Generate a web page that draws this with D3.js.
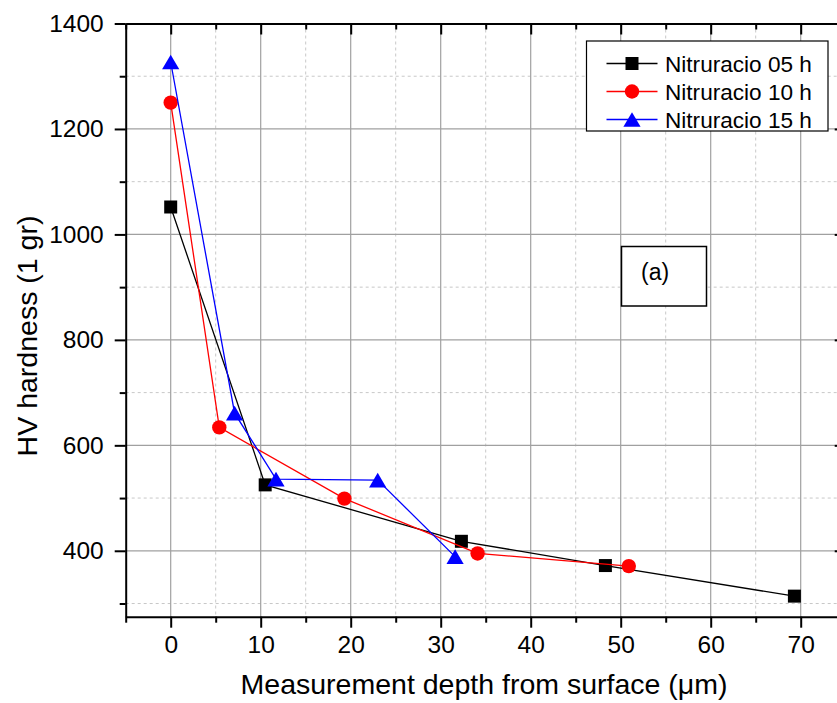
<!DOCTYPE html>
<html>
<head>
<meta charset="utf-8">
<script src="https://cdn.jsdelivr.net/npm/d3@7"></script>
<style>
  html, body { margin: 0; padding: 0; background: #fff; }
  svg { display: block; font-family: Arial, "Liberation Sans", sans-serif; }
</style>
</head>
<body>
<svg id="chart" width="837" height="703"></svg>
<script>
// ---- data ----
const xTicks = [0, 10, 20, 30, 40, 50, 60, 70];
const yTicks = [400, 600, 800, 1000, 1200, 1400];
const seriesNames = ["Nitruracio 05 h", "Nitruracio 10 h", "Nitruracio 15 h"];
const depth05 = [0, 10.5, 32.3, 48.3, 69.3];
const hv05    = [1052, 525, 418, 372, 314];
const depth10 = [0, 5.4, 19.3, 34.1, 50.9];
const hv10    = [1250, 634, 499, 395, 371];
const depth15 = [0, 7.1, 11.7, 23.0, 31.6];
const hv15    = [1327, 661, 536, 534, 389];
const xTitle = "Measurement depth from surface (\u03bcm)";
const yTitle = "HV hardness (1 gr)";
const panelLabel = "(a)";

// ---- layout ----
const svg = d3.select("#chart");
const L = 125.7, R = 845.7, T = 23.5, B = 616.7;
const x = d3.scaleLinear().domain([-5, 75]).range([L, R]);
const y = d3.scaleLinear().domain([275, 1400]).range([B, T]);

const xMinor = d3.range(-5, 76, 5).filter(v => v % 10 !== 0);
const yMinor = d3.range(300, 1400, 200);

// grid
const grid = svg.append("g");
grid.selectAll(".gxm").data(xMinor.filter(v => v > -5 && v < 75)).enter().append("line")
  .attr("x1", d => x(d)).attr("x2", d => x(d)).attr("y1", T).attr("y2", B)
  .attr("stroke", "#c8c8c8").attr("stroke-width", 1).attr("stroke-dasharray", "3,3");
grid.selectAll(".gym").data(yMinor).enter().append("line")
  .attr("y1", d => y(d)).attr("y2", d => y(d)).attr("x1", L).attr("x2", R)
  .attr("stroke", "#c8c8c8").attr("stroke-width", 1).attr("stroke-dasharray", "3,3");
grid.selectAll(".gx").data(xTicks).enter().append("line")
  .attr("x1", d => x(d)).attr("x2", d => x(d)).attr("y1", T).attr("y2", B)
  .attr("stroke", "#a0a0a0").attr("stroke-width", 1.2);
grid.selectAll(".gy").data(yTicks).enter().append("line")
  .attr("y1", d => y(d)).attr("y2", d => y(d)).attr("x1", L).attr("x2", R)
  .attr("stroke", "#a0a0a0").attr("stroke-width", 1.2);

// axes
function styleAxis(g) {
  g.select(".domain").attr("stroke", "#000").attr("stroke-width", 2);
  g.selectAll(".tick line").attr("stroke", "#000").attr("stroke-width", 2);
}
const tickFont = 24.5;
const gx = svg.append("g").attr("transform", `translate(0,${B})`)
  .call(d3.axisBottom(x).tickValues(xTicks).tickSize(11).tickSizeOuter(0).tickPadding(8).tickFormat(d3.format("d")));
styleAxis(gx);
gx.selectAll("text").attr("font-size", tickFont).attr("fill", "#000");
svg.append("g").attr("transform", `translate(0,${B})`)
  .call(d3.axisBottom(x).tickValues(xMinor).tickSize(6).tickSizeOuter(0).tickFormat(""))
  .call(styleAxis).select(".domain").remove();

const gy = svg.append("g").attr("transform", `translate(${L},0)`)
  .call(d3.axisLeft(y).tickValues(yTicks).tickSize(11).tickSizeOuter(0).tickPadding(11).tickFormat(d3.format("d")));
styleAxis(gy);
gy.selectAll("text").attr("font-size", tickFont).attr("fill", "#000");
svg.append("g").attr("transform", `translate(${L},0)`)
  .call(d3.axisLeft(y).tickValues(yMinor).tickSize(6).tickSizeOuter(0).tickFormat(""))
  .call(styleAxis).select(".domain").remove();

// top and right axes (inward ticks)
const gt = svg.append("g").attr("transform", `translate(0,${T})`)
  .call(d3.axisBottom(x).tickValues(xTicks).tickSize(11).tickSizeOuter(0).tickFormat(""));
styleAxis(gt);
svg.append("g").attr("transform", `translate(0,${T})`)
  .call(d3.axisBottom(x).tickValues(xMinor).tickSize(6).tickSizeOuter(0).tickFormat(""))
  .call(styleAxis).select(".domain").remove();
const gr = svg.append("g").attr("transform", `translate(${R},0)`)
  .call(d3.axisLeft(y).tickValues(yTicks).tickSize(11).tickSizeOuter(0).tickFormat(""));
styleAxis(gr);
svg.append("g").attr("transform", `translate(${R},0)`)
  .call(d3.axisLeft(y).tickValues(yMinor).tickSize(6).tickSizeOuter(0).tickFormat(""))
  .call(styleAxis).select(".domain").remove();

// axis titles
svg.append("text").attr("x", 484).attr("y", 694).attr("text-anchor", "middle")
  .attr("font-size", 28.5).attr("fill", "#000").text(xTitle);
svg.append("text").attr("transform", `translate(37,336) rotate(-90)`)
  .attr("text-anchor", "middle").attr("font-size", 28.5).attr("fill", "#000").text(yTitle);

// markers
const markerPaths = {
  square: "M-6.5,-6.5H6.5V6.5H-6.5Z",
  circle: d3.symbol(d3.symbolCircle, Math.PI * 7.2 * 7.2)(),
  triangle: "M0,-7.3L8.6,7.3H-8.6Z"
};
const series = [
  { name: seriesNames[0], xs: depth05, ys: hv05, color: "#000000", shape: "square" },
  { name: seriesNames[1], xs: depth10, ys: hv10, color: "#ff0000", shape: "circle" },
  { name: seriesNames[2], xs: depth15, ys: hv15, color: "#0000ff", shape: "triangle" }
];
const line = d3.line().x(d => x(d[0])).y(d => y(d[1]));
series.forEach(s => {
  const pts = s.xs.map((v, i) => [v, s.ys[i]]);
  svg.append("path").attr("d", line(pts)).attr("fill", "none")
    .attr("stroke", s.color).attr("stroke-width", 1.3);
  svg.selectAll(null).data(pts).enter().append("path")
    .attr("d", markerPaths[s.shape])
    .attr("transform", d => `translate(${x(d[0])},${y(d[1])})`)
    .attr("fill", s.color);
});

// legend
const lg = svg.append("g");
lg.append("rect").attr("x", 586.5).attr("y", 41).attr("width", 241.5).attr("height", 90)
  .attr("fill", "#fff").attr("stroke", "#000").attr("stroke-width", 1.2);
const rowY = [63.5, 91.5, 119.5];
series.forEach((s, i) => {
  lg.append("line").attr("x1", 606.5).attr("x2", 657.5).attr("y1", rowY[i]).attr("y2", rowY[i])
    .attr("stroke", s.color).attr("stroke-width", 1.3);
  lg.append("path").attr("d", markerPaths[s.shape])
    .attr("transform", `translate(632,${rowY[i]})`).attr("fill", s.color);
  lg.append("text").attr("x", 665).attr("y", rowY[i] + 8).attr("font-size", 22.6)
    .attr("fill", "#000").text(s.name);
});

// panel label box
svg.append("rect").attr("x", 621.5).attr("y", 246.5).attr("width", 85).attr("height", 59.5)
  .attr("fill", "#fff").attr("stroke", "#000").attr("stroke-width", 1.5);
svg.append("text").attr("x", 641).attr("y", 280).attr("font-size", 23).attr("fill", "#000").text(panelLabel);
</script>
</body>
</html>
